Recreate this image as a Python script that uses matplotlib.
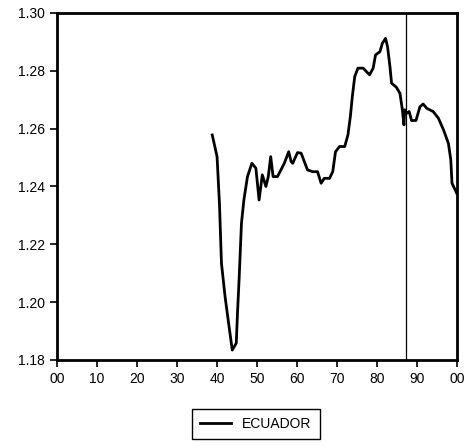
import numpy as np
import matplotlib.pyplot as plt

# ECUADOR series (year offset within the century, value)
years = [38.8, 40.0, 40.6, 41.1, 42.0, 43.0, 43.8, 44.8, 45.1, 45.5, 46.1, 46.7,
         47.6, 48.7, 49.7, 50.5, 51.3, 52.2, 52.8, 53.4, 54.0, 55.1, 56.8, 57.9,
         58.5, 58.9, 60.1, 61.0, 62.6, 63.9, 65.1, 66.0, 66.8, 68.1, 68.9, 69.6,
         70.6, 71.9, 72.7, 73.3, 73.8, 74.4, 75.2, 76.5, 78.1, 79.0, 79.6, 80.7,
         81.3, 82.1, 82.6, 83.2, 83.6, 84.8, 85.7, 86.3, 86.7, 86.9, 87.4, 88.0,
         88.6, 89.7, 90.7, 91.5, 92.4, 94.0, 95.3, 96.6, 97.8, 98.4, 98.7, 99.5, 99.9]
values = [1.2578, 1.2503, 1.2340, 1.2134, 1.2019, 1.1915, 1.1834, 1.1858, 1.1961,
          1.2077, 1.2273, 1.2353, 1.2434, 1.2480, 1.2463, 1.2353, 1.2440, 1.2400,
          1.2434, 1.2503, 1.2434, 1.2434, 1.2480, 1.2520, 1.2486, 1.2480, 1.2517,
          1.2515, 1.2457, 1.2451, 1.2451, 1.2411, 1.2428, 1.2428, 1.2451, 1.2520,
          1.2538, 1.2538, 1.2578, 1.2641, 1.2711, 1.2780, 1.2809, 1.2809, 1.2786,
          1.2809, 1.2855, 1.2866, 1.2895, 1.2912, 1.2883, 1.2814, 1.2757, 1.2743,
          1.2722, 1.2665, 1.2613, 1.2665, 1.2653, 1.2659, 1.2628, 1.2628, 1.2676,
          1.2685, 1.2670, 1.2659, 1.2636, 1.2595, 1.2549, 1.2492, 1.2411, 1.2388,
          1.2376]
marker_year = 87.1

xticks = list(range(0, 101, 10))
xlabels = ['00', '10', '20', '30', '40', '50', '60', '70', '80', '90', '00']
yticks = [1.18, 1.20, 1.22, 1.24, 1.26, 1.28, 1.30]

plt.rcParams['font.family'] = ['Liberation Sans', 'DejaVu Sans']

fig = plt.figure(figsize=(4.67, 4.46), dpi=100)
ax = fig.add_axes([0.122, 0.193, 0.857, 0.778])

ax.plot(years, values, color='black', lw=2.0, label='ECUADOR')
ax.axvline(marker_year, color='black', lw=0.9)

ax.set_xlim(0, 100)
ax.set_ylim(1.18, 1.30)
ax.set_xticks(xticks)
ax.set_xticklabels(xlabels)
ax.set_yticks(yticks)
ax.set_yticklabels(['%.2f' % v for v in yticks])

for s in ax.spines.values():
    s.set_linewidth(2)
ax.tick_params(direction='out', length=5, width=1.2, labelsize=10, top=False, right=False)

leg = fig.legend(loc='center', bbox_to_anchor=(256 / 467, 1 - 424 / 446), fancybox=False,
                 edgecolor='black', framealpha=1, fontsize=10, handlelength=2.2,
                 borderpad=0.6)
leg.get_frame().set_linewidth(1.0)

fig.savefig('out.png', dpi=100)
